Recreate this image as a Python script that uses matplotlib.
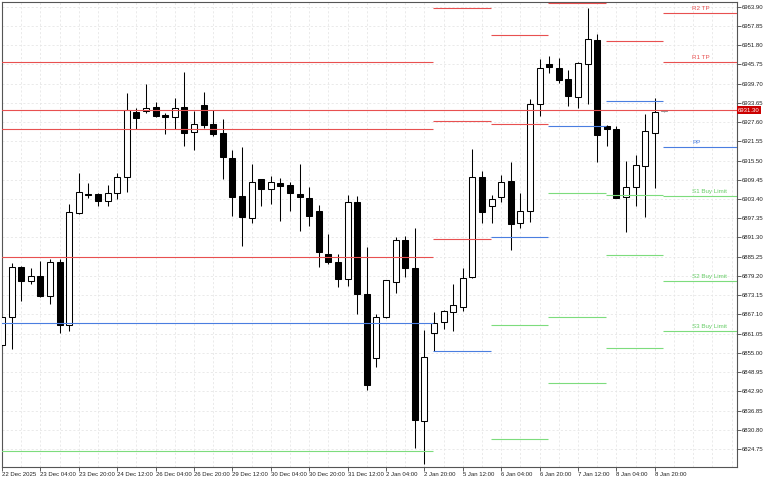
import numpy as np
import matplotlib
matplotlib.use('Agg')
import matplotlib.pyplot as plt
from matplotlib.patches import Rectangle
import matplotlib.transforms as mtransforms

plt.rcParams['font.family'] = ['Liberation Sans', 'DejaVu Sans']

# H4 candles (open, high, low, close)
opens = [6857.46, 6866.18, 6881.91, 6877.69, 6879.17, 6872.88, 6883.67, 6863.75, 6899.08, 6905.10,
         6904.87, 6902.86, 6905.19, 6910.41, 6930.86, 6931.17, 6932.43, 6929.82, 6929.10, 6932.43,
         6924.57, 6932.97, 6926.90, 6924.06, 6916.20, 6904.34, 6897.32, 6909.59, 6906.45, 6908.33,
         6907.80, 6904.97, 6903.80, 6899.62, 6886.09, 6883.67, 6878.13, 6902.55, 6873.51, 6853.28,
         6866.18, 6877.38, 6890.50, 6881.59, 6833.65, 6861.14, 6864.79, 6867.94, 6869.51, 6878.76,
         6910.41, 6901.19, 6903.93, 6909.15, 6895.75, 6899.71, 6933.28, 6945.87, 6944.51, 6941.05,
         6935.39, 6945.77, 6953.42, 6926.36, 6925.32, 6903.93, 6907.26, 6913.87, 6924.06, 6931.00]
highs = [6866.60, 6883.35, 6882.32, 6881.59, 6883.89, 6884.52, 6884.52, 6901.82, 6911.48, 6908.52,
         6905.38, 6907.70, 6911.48, 6936.65, 6931.93, 6939.48, 6933.82, 6930.55, 6935.07, 6943.44,
         6931.17, 6936.96, 6931.39, 6928.56, 6918.81, 6919.66, 6914.41, 6909.69, 6910.63, 6910.00,
         6908.84, 6914.31, 6907.26, 6901.51, 6892.29, 6886.00, 6904.65, 6904.34, 6888.39, 6867.12,
         6878.07, 6891.35, 6891.75, 6894.18, 6862.18, 6867.94, 6868.47, 6876.56, 6881.59, 6919.03,
         6912.30, 6904.65, 6910.94, 6914.94, 6905.19, 6934.76, 6947.34, 6948.38, 6947.66, 6943.98,
         6946.59, 6963.39, 6955.21, 6926.67, 6926.36, 6915.35, 6917.24, 6930.04, 6935.07, 6931.50]
lows = [6856.83, 6856.11, 6871.40, 6876.65, 6872.47, 6870.36, 6861.33, 6861.96, 6898.68, 6903.62,
        6901.29, 6901.29, 6903.39, 6905.69, 6925.42, 6930.36, 6929.10, 6923.84, 6925.32, 6920.16,
        6918.81, 6925.64, 6923.21, 6909.69, 6898.05, 6888.61, 6895.75, 6901.29, 6901.73, 6896.47,
        6899.71, 6893.42, 6895.00, 6881.91, 6882.85, 6875.80, 6876.02, 6867.22, 6843.31, 6850.64,
        6866.05, 6873.92, 6878.95, 6824.97, 6819.93, 6855.67, 6862.40, 6861.87, 6868.16, 6878.45,
        6895.75, 6895.75, 6902.36, 6887.35, 6894.37, 6896.06, 6929.51, 6942.94, 6939.98, 6932.65,
        6932.12, 6933.28, 6914.94, 6920.07, 6903.71, 6893.11, 6901.29, 6897.83, 6906.95, 6930.90]
closes = [6866.37, 6881.91, 6877.69, 6879.26, 6872.97, 6883.67, 6863.75, 6899.40, 6905.50, 6904.70,
          6902.86, 6905.19, 6910.22, 6931.39, 6928.78, 6931.93, 6929.51, 6929.10, 6931.93, 6924.25,
          6926.90, 6926.67, 6923.84, 6916.51, 6904.12, 6897.64, 6908.74, 6906.45, 6908.65, 6907.48,
          6905.19, 6904.12, 6898.14, 6886.63, 6883.67, 6878.23, 6902.36, 6873.51, 6844.88, 6866.37,
          6877.91, 6890.50, 6881.78, 6833.87, 6853.59, 6864.29, 6868.25, 6869.95, 6878.64, 6910.22,
          6899.40, 6903.49, 6908.84, 6895.53, 6899.71, 6933.28, 6944.51, 6944.83, 6940.83, 6935.80,
          6946.09, 6953.64, 6923.53, 6925.51, 6903.80, 6907.26, 6914.09, 6924.79, 6930.67, 6931.30]

time_labels = ['22 Dec 2025', '23 Dec 04:00', '23 Dec 20:00', '24 Dec 12:00', '26 Dec 04:00',
               '26 Dec 20:00', '29 Dec 12:00', '30 Dec 04:00', '30 Dec 20:00', '31 Dec 12:00',
               '2 Jan 04:00', '2 Jan 20:00', '5 Jan 12:00', '6 Jan 04:00', '6 Jan 20:00',
               '7 Jan 12:00', '8 Jan 04:00', '8 Jan 20:00']

# pivot levels per day (bar index where the day starts)
day_start = [-10, 45, 51, 57, 63, 69]
res_levels = [[6946.40, 6925.32, 6885.24], [6963.39, 6928.03, 6890.81], [6954.99, 6927.08],
              [6965.20], [6953.01], [6961.82, 6946.40]]
pivots = [6864.48, 6855.48, 6891.35, 6926.27, 6934.23, 6919.75]
sup_levels = [[6824.21], [], [6863.66, 6827.99], [6905.38, 6866.27, 6845.41],
              [6904.56, 6885.68, 6856.43], [6904.34, 6877.69, 6861.96]]
last_labels_res = ['R2 TP', 'R1 TP']
last_labels_sup = ['S1 Buy Limit', 'S2 Buy Limit', 'S3 Buy Limit']

bid = 6931.30
price_ticks = [6824.75 + 6.05 * k for k in range(24)]

RED = '#e85050'
BLUE = '#4a7ee0'
GREEN = '#7ddc7d'

fig = plt.figure(figsize=(7.68, 4.8), dpi=100)
ax = fig.add_axes([1.7 / 768, 1 - 466.7 / 480, 735 / 768, 465 / 480])

n = len(opens)
x_right = 76.53
ax.set_xlim(-0.03, x_right)
ax.set_ylim(6819.18, 6965.47)

# candles
for i in range(n):
    o, h, l, c = opens[i], highs[i], lows[i], closes[i]
    col = '#999999' if i == n - 1 else 'black'
    ax.vlines(i, l, h, color=col, lw=0.75, zorder=2)
    lo = min(o, c)
    ht = max(abs(c - o), 0.35)
    face = 'white' if c >= o else col
    if i == n - 1:
        face = '#bbbbbb'
    ax.add_patch(Rectangle((i - 0.31, lo), 0.62, ht, facecolor=face,
                           edgecolor=col, lw=0.75, zorder=3))

# pivot level segments
ends = day_start[1:] + [x_right + 1]
for k in range(len(day_start)):
    x0, x1 = day_start[k] - 0.1, ends[k] - 0.1
    for v in res_levels[k]:
        ax.hlines(v, x0, x1, color=RED, lw=0.8, zorder=4)
    ax.hlines(pivots[k], x0, x1, color=BLUE, lw=0.8, zorder=4)
    for v in sup_levels[k]:
        ax.hlines(v, x0, x1, color=GREEN, lw=0.8, zorder=4)

# labels on the current day's levels
lx = day_start[-1] + 2.9
for lab, v in zip(last_labels_res, res_levels[-1]):
    ax.text(lx, v + 0.6, lab, color=RED, fontsize=4.5, ha='left', va='bottom', zorder=5)
ax.text(lx, pivots[-1] + 0.6, 'PP', color=BLUE, fontsize=4.5, ha='left', va='bottom', zorder=5)
for lab, v in zip(last_labels_sup, sup_levels[-1]):
    ax.text(lx, v + 0.6, lab, color='#66cc66', fontsize=4.5, ha='left', va='bottom', zorder=5)

# bid line
ax.axhline(bid, color=RED, lw=0.8, zorder=4)
trans = mtransforms.blended_transform_factory(ax.transAxes, ax.transData)
ax.text(1.002, bid, '%.2f' % bid, transform=trans, color='white', fontsize=4.3,
        ha='left', va='center', zorder=6, clip_on=False,
        bbox=dict(boxstyle='square,pad=0.25', fc='#cc0000', ec='none'))

# axes styling
ax.yaxis.tick_right()
ax.set_yticks(price_ticks)
ax.set_yticklabels(['%.2f' % p for p in price_ticks])
ax.set_xticks(range(0, 4 * len(time_labels), 4))
ax.set_xticklabels(time_labels, ha='left')
ax.set_xticks(np.arange(0, 78, 2), minor=True)
ax.tick_params(axis='both', which='major', labelsize=4.3, length=3, width=0.6,
               color='#444444', labelcolor='#222222')
ax.tick_params(axis='y', pad=0.8)
ax.tick_params(axis='x', pad=1.0)
ax.tick_params(which='minor', length=0)
ax.grid(which='both', axis='x', color='#e6e6e6', lw=0.6, ls=(0, (2.5, 2.5)), zorder=0)
ax.grid(which='major', axis='y', color='#e6e6e6', lw=0.6, ls=(0, (2.5, 2.5)), zorder=0)
ax.set_axisbelow(True)
for s in ax.spines.values():
    s.set_color('#555555')
    s.set_linewidth(0.8)

fig.savefig('out.png', dpi=100)
